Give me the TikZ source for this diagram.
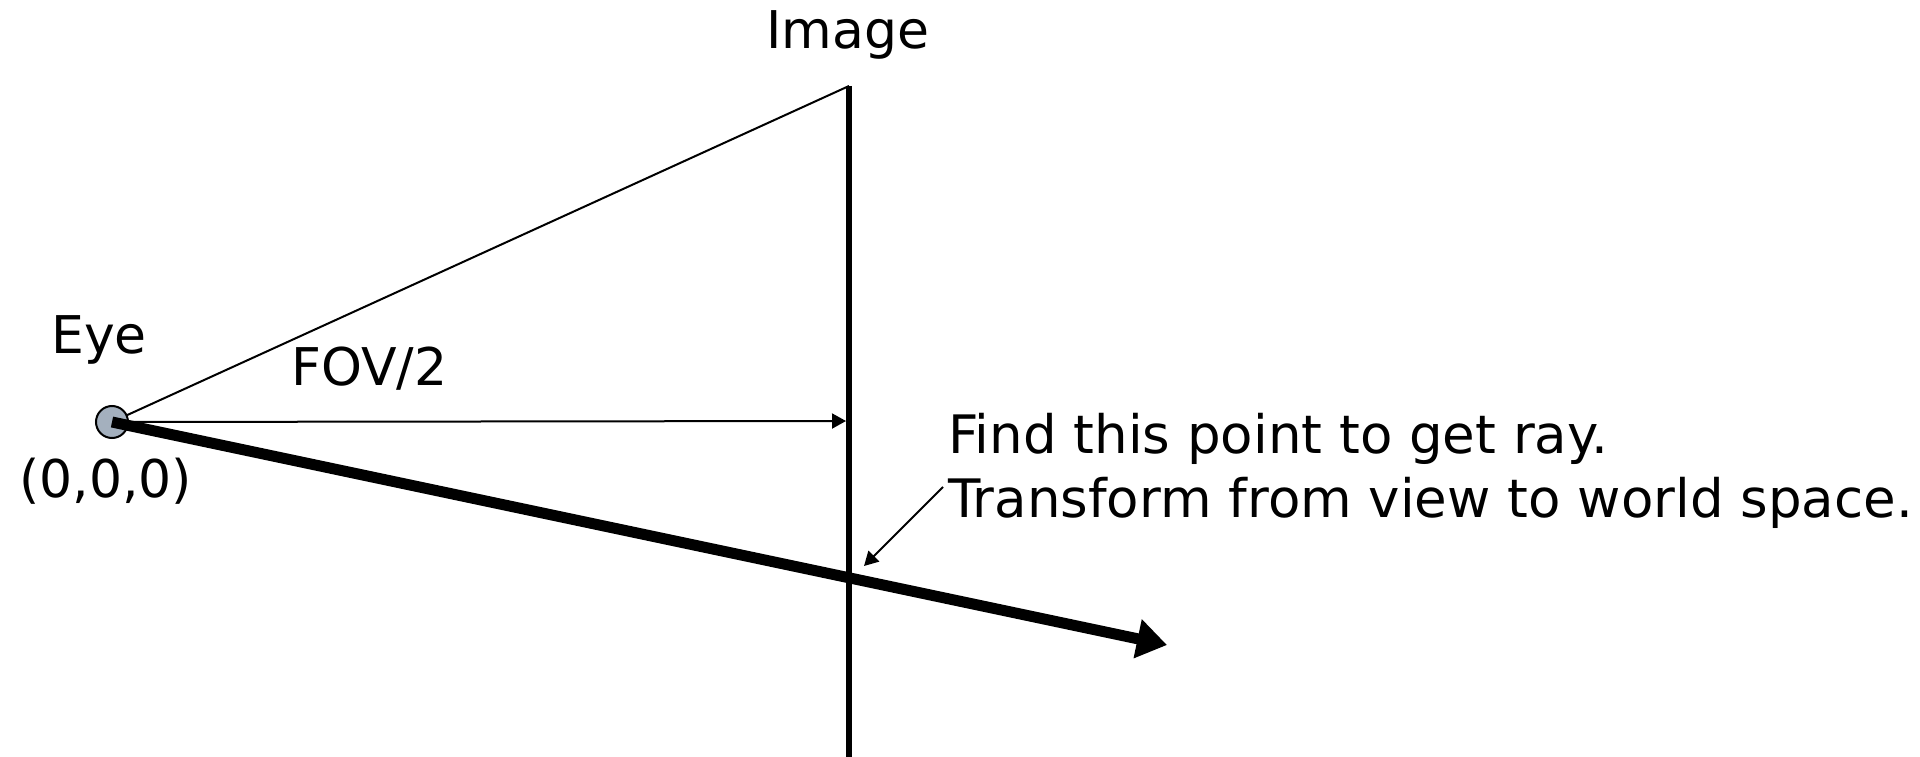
\documentclass[tikz,border=0pt]{standalone}
\usepackage{fontspec}
\setmainfont{DejaVu Sans}
\usetikzlibrary{arrows.meta}
\definecolor{eyefill}{RGB}{164,176,190}
\tikzset{
  lbl/.style={inner sep=0pt, anchor=base west, font=\fontsize{52}{64}\selectfont},
  biglbl/.style={lbl, font=\fontsize{53}{64}\selectfont},
  thinline/.style={line width=2pt, black},
  thinarrow/.style={line width=2pt, black, -{Triangle[length=14pt,width=15pt]}},
  rayarrow/.style={line width=11pt, black, -{Triangle[length=30pt,width=38pt]}},
  imgline/.style={line width=6pt, black},
}
\begin{document}
\begin{tikzpicture}[x=1pt,y=-1pt]
\useasboundingbox (0,0) rectangle (1920,757);
% coordinates
\coordinate (imgtop) at (849,86);
\coordinate (imgbot) at (849,760);
\coordinate (imgmid) at (846,421);
\coordinate (raytip) at (1167,645);
\coordinate (ptrstart) at (943,487);
\coordinate (ptrtip) at (864,566);
% labels
\node[lbl, anchor=base] (imglbl) at (848,49) {Image};
\node[lbl] (eyelbl) at (51,353) {Eye};
\node[lbl] (fovlbl) at (291,385) {FOV/2};
\node[lbl] (originlbl) at (19,497) {(0,0,0)};
\node[biglbl] (line1) at (948,453) {Find this point to get ray.};
\node[biglbl] (line2) at (948,517) {Transform from view to world space.};
% eye
\coordinate (eyec) at (112,422);
\draw[thinline] (eyec) -- (imgtop);
\draw[thinarrow] (eyec) -- (imgmid);
\node[circle, draw, line width=2pt, fill=eyefill, minimum size=32pt, inner sep=0pt] (eye) at (eyec) {};
% image plane
\draw[imgline] (imgtop) -- (imgbot);
% ray
\draw[rayarrow] (eye.center) -- (raytip);
% pointer
\draw[thinarrow] (ptrstart) -- (ptrtip);
\end{tikzpicture}
\end{document}
